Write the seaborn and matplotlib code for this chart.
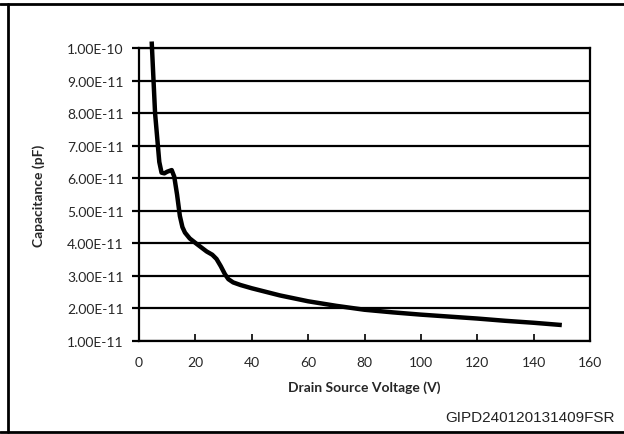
import numpy as np
import pandas as pd
import seaborn as sns
import matplotlib.pyplot as plt
from matplotlib.lines import Line2D
from matplotlib.ticker import FuncFormatter, MultipleLocator

# values
voltage = [4.5, 5.7, 7.2, 8.0, 9.0, 10.0, 11.6, 12.5, 13.5, 14.5, 15.4, 16.3, 18.0,
           20.5, 24.0, 26.0, 27.5, 29.0, 30.5, 31.7, 33.4, 36.0, 40, 50, 60, 70,
           80, 90, 100, 110, 120, 130, 140, 150]
capacitance = [10.2, 8.0, 6.5, 6.17, 6.15, 6.2, 6.25, 6.05, 5.5, 4.84, 4.5, 4.33, 4.15,
               3.98, 3.75, 3.65, 3.52, 3.3, 3.05, 2.90, 2.80, 2.72, 2.62, 2.40, 2.22,
               2.08, 1.96, 1.88, 1.81, 1.75, 1.69, 1.62, 1.56, 1.49]
capacitance = [c * 1e-11 for c in capacitance]

df = pd.DataFrame({'Drain Source Voltage (V)': voltage, 'Capacitance (pF)': capacitance})

sns.set_style('white')
plt.rcParams['font.family'] = ['Lato', 'DejaVu Sans']

fig = plt.figure(figsize=(6.24, 4.35), dpi=100)
ax = fig.add_axes([139 / 624, 1 - 342 / 435, (590 - 139) / 624, (342 - 49) / 435])

sns.lineplot(data=df, x='Drain Source Voltage (V)', y='Capacitance (pF)', ax=ax,
             color='black', linewidth=3.2, solid_joinstyle='round',
             solid_capstyle='butt', clip_on=False, zorder=5)

ax.set_xlim(0, 160)
ax.set_ylim(1e-11, 1e-10)
ax.xaxis.set_major_locator(MultipleLocator(20))
ax.yaxis.set_major_locator(MultipleLocator(1e-11))
ax.yaxis.set_major_formatter(FuncFormatter(lambda v, p: f'{v:.2E}'))
ax.yaxis.get_offset_text().set_visible(False)

ax.grid(axis='y', color='black', linewidth=1.6)
ax.grid(axis='x', visible=False)
for s in ax.spines.values():
    s.set_color('black')
    s.set_linewidth(1.6)

ax.tick_params(axis='y', direction='out', length=5, width=1.6, color='black',
               labelsize=10, pad=6, left=True)
ax.tick_params(axis='x', direction='in', length=5, width=1.2, color='black',
               labelsize=10, pad=11, bottom=True)

ax.set_xlabel('Drain Source Voltage (V)', fontsize=10, fontweight='bold', labelpad=9)
ax.set_ylabel('Capacitance (pF)', fontsize=10, fontweight='bold', labelpad=16)

fig.text(615 / 624, 1 - 418 / 435, 'GIPD240120131409FSR', ha='right', va='center',
         fontsize=11, family='Liberation Sans', color='#222222')

# outer frame: top, left and bottom lines
fig.add_artist(Line2D([0, 1], [1 - 5 / 435, 1 - 5 / 435], color='black', lw=2))
fig.add_artist(Line2D([8 / 624, 8 / 624], [1 - 5 / 435, 1 - 433 / 435], color='black', lw=2))
fig.add_artist(Line2D([0, 1], [1 - 433 / 435, 1 - 433 / 435], color='black', lw=2))

fig.savefig('out.png', dpi=100)
